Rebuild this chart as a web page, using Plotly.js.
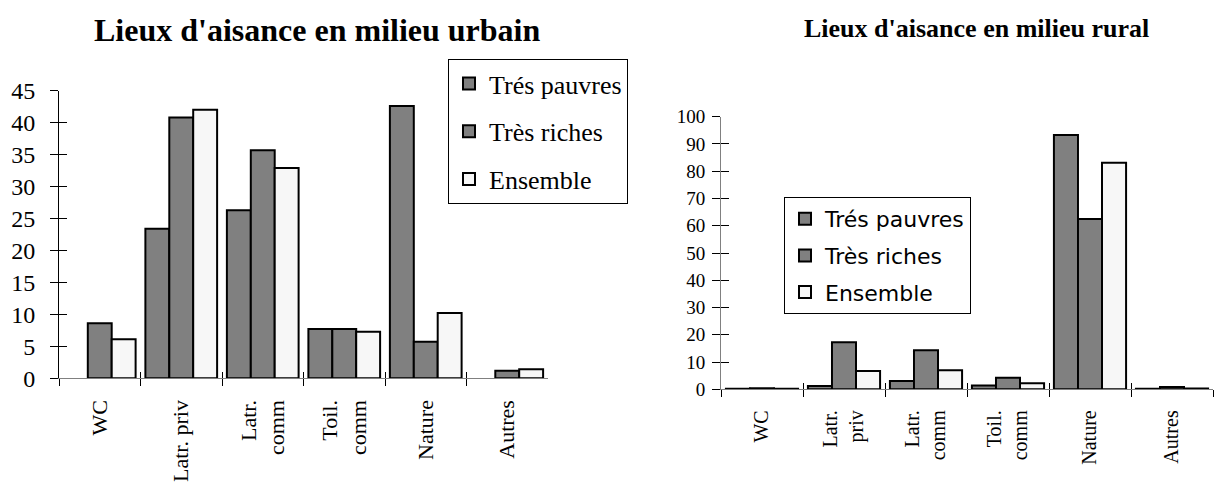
<!DOCTYPE html>
<html>
<head>
<meta charset="utf-8">
<script src="https://cdn.plot.ly/plotly-3.0.1.min.js"></script>
<style>html,body{margin:0;padding:0;background:#fff;}#chart{width:1225px;height:495px;}</style>
</head>
<body>
<div id="chart"></div>
<script>
// ---- data ----
const seriesNames = ['Trés pauvres', 'Très riches', 'Ensemble'];
const categoriesUrban = ['WC', 'Latr. priv', 'Latr.<br>comm', 'Toil.<br>comm', 'Nature', 'Autres'];
const categoriesRural = ['WC', 'Latr.<br>priv', 'Latr.<br>comm', 'Toil.<br>comm', 'Nature', 'Autres'];
const urbanPauvres  = [null, 23.4, 26.3, 7.7, 42.6, null];
const urbanRiches   = [8.6, 40.8, 35.7, 7.7, 5.7, 1.2];
const urbanEnsemble = [6.1, 42.0, 32.9, 7.3, 10.2, 1.4];
const ruralPauvres  = [0.2, 1.2, 3.0, 1.4, 93.3, 0.2];
const ruralRiches   = [0.4, 17.3, 14.3, 4.2, 62.5, 0.8];
const ruralEnsemble = [0.2, 6.7, 7.0, 2.2, 83.1, 0.3];
const urbanTicks = [0, 5, 10, 15, 20, 25, 30, 35, 40, 45];
const ruralTicks = [0, 10, 20, 30, 40, 50, 60, 70, 80, 90, 100];

// ---- styles ----
const DARK = '#808080', LIGHT = '#f7f7f7';
const fills = [DARK, DARK, LIGHT];
const SERIF = '"Liberation Serif", "Times New Roman", serif';
const SANS = '"DejaVu Sans", sans-serif';

function bars(cats, vals, i, xa, ya, legend) {
  return {
    type: 'bar', x: cats, y: vals, name: seriesNames[i],
    xaxis: xa, yaxis: ya, legend: legend, legendgroup: legend + i,
    marker: {color: fills[i], line: {color: '#000', width: 2}},
    hoverinfo: 'x+y+name'
  };
}
const data = [
  bars(categoriesUrban, urbanPauvres, 0, 'x', 'y', 'legend'),
  bars(categoriesUrban, urbanRiches, 1, 'x', 'y', 'legend'),
  bars(categoriesUrban, urbanEnsemble, 2, 'x', 'y', 'legend'),
  bars(categoriesRural, ruralPauvres, 0, 'x2', 'y2', 'legend2'),
  bars(categoriesRural, ruralRiches, 1, 'x2', 'y2', 'legend2'),
  bars(categoriesRural, ruralEnsemble, 2, 'x2', 'y2', 'legend2'),
  // helper traces so the inner-tick overlay axes are drawn
  {type: 'scatter', x: categoriesUrban, y: categoriesUrban.map(() => null), xaxis: 'x3', yaxis: 'y3', showlegend: false, hoverinfo: 'skip'},
  {type: 'scatter', x: categoriesRural, y: categoriesRural.map(() => null), xaxis: 'x4', yaxis: 'y4', showlegend: false, hoverinfo: 'skip'}
];

const W = 1225, H = 495;
const px = v => v / W, py = v => (H - v) / H;
const dom1x = [px(59), px(548)], dom1y = [py(378.3), py(90.7)];
const dom2x = [px(721), px(1213)], dom2y = [py(389.3), py(116.7)];

function catAxis(domain, anchor, cats, size, lineColor) {
  return {
    domain: domain, anchor: anchor, type: 'category', categoryarray: cats, categoryorder: 'array',
    range: [-0.5, cats.length - 0.5], fixedrange: true,
    showline: true, linecolor: lineColor, linewidth: 1, showgrid: false, zeroline: false,
    ticks: 'outside', tickson: 'boundaries', ticklen: 7, tickcolor: '#000', tickwidth: 1,
    tickangle: -90, tickfont: {family: SERIF, size: size, color: '#000'},
    ticklabelstandoff: 12, automargin: false
  };
}
function valAxis(domain, anchor, range, ticks, size, lineColor, standoff) {
  return {
    domain: domain, anchor: anchor, range: range, tickvals: ticks, fixedrange: true,
    showline: true, linecolor: lineColor, linewidth: 1, showgrid: false, zeroline: false,
    ticks: 'outside', ticklen: 8, tickcolor: '#000', tickwidth: 1,
    tickfont: {family: SERIF, size: size, color: '#000'},
    ticklabelstandoff: standoff, automargin: false
  };
}
function innerX(over, anchor, cats) {
  return {overlaying: over, anchor: anchor, type: 'category', categoryarray: cats, categoryorder: 'array',
    range: [-0.5, cats.length - 0.5], ticks: 'inside', tickson: 'boundaries', ticklen: 6,
    tickcolor: '#000', showticklabels: false, showline: false, showgrid: false, zeroline: false, fixedrange: true};
}
function innerY(over, anchor, range, ticks) {
  return {overlaying: over, anchor: anchor, range: range, tickvals: ticks, ticks: 'inside', ticklen: 8,
    tickcolor: '#000', showticklabels: false, showline: false, showgrid: false, zeroline: false, fixedrange: true};
}

const layout = {
  width: W, height: H,
  margin: {l: 0, r: 0, t: 0, b: 0},
  paper_bgcolor: '#fff', plot_bgcolor: 'rgba(0,0,0,0)',
  barmode: 'group', bargap: 0.12, bargroupgap: 0,
  showlegend: true,
  xaxis: catAxis(dom1x, 'y', categoriesUrban, 22, '#808080'),
  yaxis: valAxis(dom1y, 'x', [0, 45], urbanTicks, 24, '#000', 10),
  xaxis2: catAxis(dom2x, 'y2', categoriesRural, 20, '#808080'),
  yaxis2: valAxis(dom2y, 'x2', [0, 100], ruralTicks, 19, '#808080', 3),
  xaxis3: innerX('x', 'y', categoriesUrban),
  yaxis3: innerY('y', 'x', [0, 45], urbanTicks),
  xaxis4: innerX('x2', 'y2', categoriesRural),
  yaxis4: innerY('y2', 'x2', [0, 100], ruralTicks),
  legend: {
    x: px(448), xanchor: 'left', y: py(59), yanchor: 'top',
    bgcolor: '#fff', bordercolor: '#000', borderwidth: 1,
    font: {family: SERIF, size: 26, color: '#000'},
    tracegroupgap: 11, traceorder: 'grouped'
  },
  legend2: {
    x: px(784), xanchor: 'left', y: py(197), yanchor: 'top',
    bgcolor: '#fff', bordercolor: '#000', borderwidth: 1,
    font: {family: SANS, size: 22, color: '#000'},
    tracegroupgap: 5, traceorder: 'grouped'
  },
  annotations: [
    {text: "<b>Lieux d'aisance en milieu urbain</b>", xref: 'paper', yref: 'paper',
     x: px(317), y: py(30), xanchor: 'center', yanchor: 'middle', showarrow: false,
     font: {family: SERIF, size: 32, color: '#000'}},
    {text: "<b>Lieux d'aisance en milieu rural</b>", xref: 'paper', yref: 'paper',
     x: px(976), y: py(28), xanchor: 'center', yanchor: 'middle', showarrow: false,
     font: {family: SERIF, size: 26, color: '#000'}}
  ]
};

Plotly.newPlot('chart', data, layout, {displayModeBar: false, staticPlot: true});
</script>
</body>
</html>
